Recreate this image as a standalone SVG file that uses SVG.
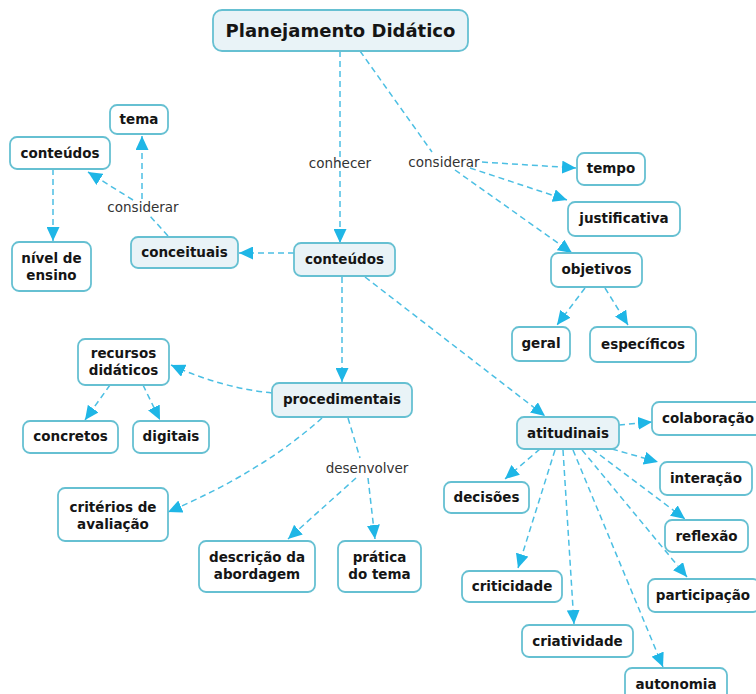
<svg xmlns="http://www.w3.org/2000/svg" width="756" height="694" viewBox="0 0 756 694">
<defs>
<style>
.n rect{fill:#ffffff;stroke:#66c0d2;stroke-width:1.8}
.n.h rect{fill:#e9f3f7}
.n text{font-family:"DejaVu Sans",Verdana,sans-serif;font-weight:bold;font-size:13.5px;fill:#151515;text-anchor:middle}
.t text{font-size:18px}
.lbl{font-family:"DejaVu Sans",Verdana,sans-serif;font-size:13.5px;fill:#333333;text-anchor:middle}
.c path{fill:none;stroke:#4cbfe3;stroke-width:1.5;stroke-dasharray:6 4}
.c path.a{marker-end:url(#ah)}
</style>
<marker id="ah" markerUnits="userSpaceOnUse" markerWidth="14" markerHeight="13" refX="14" refY="6.5" orient="auto" viewBox="0 0 14 13">
<path d="M0,0 L14,6.5 L0,13 z" fill="#1fb6e6"/>
</marker>
</defs>
<rect width="756" height="694" fill="#ffffff"/>

<g id="connectors" class="c">
<path d="M340,51 L340,243" class="a"/>
<path d="M360,51 L432,152"/>
<path d="M482,162 L576,168" class="a"/>
<path d="M470,168 L567,200" class="a"/>
<path d="M455,170 L572,253" class="a"/>
<path d="M585,288 L557,325" class="a"/>
<path d="M605,288 L628,325" class="a"/>
<path d="M294,253 L239,253" class="a"/>
<path d="M168,236 L150,216"/>
<path d="M142,199 L142,136" class="a"/>
<path d="M133,200 L88,172" class="a"/>
<path d="M53,169 L53,241" class="a"/>
<path d="M342,277 L342,382" class="a"/>
<path d="M365,277 L545,416" class="a"/>
<path d="M272,393 Q222,388 171,365" class="a"/>
<path d="M110,385 L85,420" class="a"/>
<path d="M143,385 L160,420" class="a"/>
<path d="M322,418 Q262,472 168,512" class="a"/>
<path d="M348,418 L360,458"/>
<path d="M356,478 L288,539" class="a"/>
<path d="M368,478 L375,539" class="a"/>
<path d="M619,425 L652,422" class="a"/>
<path d="M612,449 L658,462" class="a"/>
<path d="M540,449 L505,479" class="a"/>
<path d="M592,449 L685,519" class="a"/>
<path d="M582,450 L687,577" class="a"/>
<path d="M555,450 L518,568" class="a"/>
<path d="M563,450 L574,624" class="a"/>
<path d="M573,450 L663,667" class="a"/>
</g>

<g id="labels">
<text class="lbl" x="340" y="168">conhecer</text>
<text class="lbl" x="444" y="167">considerar</text>
<text class="lbl" x="143" y="212">considerar</text>
<text class="lbl" x="367" y="473">desenvolver</text>
</g>

<g id="planejamento" class="n h t"><rect x="213" y="10" width="255" height="41" rx="9"/><text x="340.5" y="37">Planejamento Didático</text></g>
<g id="tema" class="n"><rect x="110" y="105" width="58" height="29" rx="7"/><text x="139" y="124">tema</text></g>
<g id="conteudos-esq" class="n"><rect x="10" y="137" width="100" height="32" rx="7"/><text x="60" y="158">conteúdos</text></g>
<g id="nivel" class="n"><rect x="12" y="242" width="79" height="49" rx="7"/><text x="51.5" y="263">nível de</text><text x="51.5" y="280">ensino</text></g>
<g id="conceituais" class="n h"><rect x="131" y="237" width="107" height="31" rx="7"/><text x="184.5" y="257">conceituais</text></g>
<g id="conteudos" class="n h"><rect x="294" y="243" width="101" height="33" rx="7"/><text x="344.5" y="264">conteúdos</text></g>
<g id="tempo" class="n"><rect x="577" y="153" width="68" height="32" rx="7"/><text x="611" y="173">tempo</text></g>
<g id="justificativa" class="n"><rect x="568" y="202" width="112" height="34" rx="7"/><text x="624" y="223">justificativa</text></g>
<g id="objetivos" class="n"><rect x="551" y="253" width="91" height="34" rx="7"/><text x="596.5" y="274">objetivos</text></g>
<g id="geral" class="n"><rect x="512" y="327" width="58" height="34" rx="7"/><text x="541" y="348">geral</text></g>
<g id="especificos" class="n"><rect x="590" y="327" width="106" height="35" rx="7"/><text x="643" y="349">específicos</text></g>
<g id="recursos" class="n"><rect x="78" y="339" width="91" height="46" rx="7"/><text x="123.5" y="358">recursos</text><text x="123.5" y="375">didáticos</text></g>
<g id="procedimentais" class="n h"><rect x="272" y="383" width="140" height="34" rx="7"/><text x="342" y="404">procedimentais</text></g>
<g id="concretos" class="n"><rect x="23" y="421" width="95" height="32" rx="7"/><text x="70.5" y="441">concretos</text></g>
<g id="digitais" class="n"><rect x="133" y="421" width="76" height="32" rx="7"/><text x="171" y="441">digitais</text></g>
<g id="criterios" class="n"><rect x="58" y="488" width="110" height="53" rx="7"/><text x="113" y="512">critérios de</text><text x="113" y="529">avaliação</text></g>
<g id="descricao" class="n"><rect x="199" y="541" width="116" height="51" rx="7"/><text x="257" y="562">descrição da</text><text x="257" y="579">abordagem</text></g>
<g id="pratica" class="n"><rect x="338" y="541" width="83" height="51" rx="7"/><text x="379.5" y="562">prática</text><text x="379.5" y="579">do tema</text></g>
<g id="atitudinais" class="n h"><rect x="517" y="417" width="102" height="32" rx="7"/><text x="568" y="438">atitudinais</text></g>
<g id="colaboracao" class="n"><rect x="652" y="402" width="112" height="33" rx="7"/><text x="708" y="423">colaboração</text></g>
<g id="interacao" class="n"><rect x="660" y="462" width="92" height="33" rx="7"/><text x="706" y="483">interação</text></g>
<g id="decisoes" class="n"><rect x="444" y="482" width="85" height="31" rx="7"/><text x="486.5" y="502">decisões</text></g>
<g id="reflexao" class="n"><rect x="665" y="520" width="83" height="32" rx="7"/><text x="706.5" y="541">reflexão</text></g>
<g id="criticidade" class="n"><rect x="462" y="571" width="100" height="31" rx="7"/><text x="512" y="591">criticidade</text></g>
<g id="participacao" class="n"><rect x="648" y="579" width="112" height="33" rx="7"/><text x="703" y="600">participação</text></g>
<g id="criatividade" class="n"><rect x="522" y="625" width="111" height="32" rx="7"/><text x="577.5" y="646">criatividade</text></g>
<g id="autonomia" class="n"><rect x="625" y="668" width="102" height="33" rx="7"/><text x="676" y="689">autonomia</text></g>
</svg>
